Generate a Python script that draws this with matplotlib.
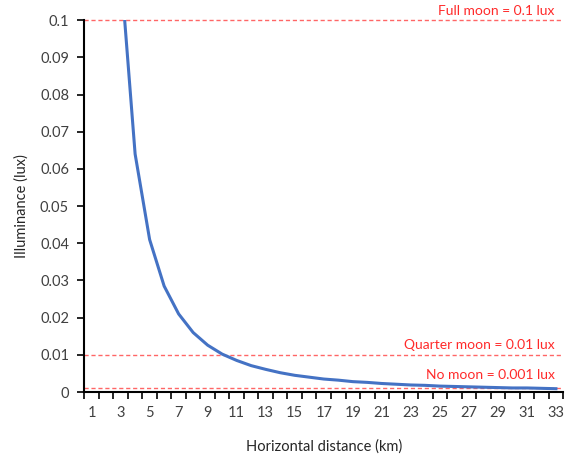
import matplotlib
matplotlib.use("Agg")
import matplotlib.pyplot as plt
import numpy as np

# Horizontal distance (km) and illuminance (lux)
distance_km = list(range(3, 34))
illuminance_lux = [0.114, 0.064, 0.041, 0.0285, 0.021, 0.016, 0.0126, 0.0102,
                   0.0085, 0.0071, 0.0061, 0.0052, 0.0045, 0.0040, 0.0035, 0.0032,
                   0.0028, 0.0026, 0.0023, 0.0021, 0.0019, 0.0018, 0.0016, 0.0015,
                   0.0014, 0.0013, 0.0012, 0.0011, 0.0011, 0.0010, 0.0009]

categories = list(range(1, 34))
x_tick_labels = [str(c) for c in categories if c % 2 == 1]
y_ticks = [0, 0.01, 0.02, 0.03, 0.04, 0.05, 0.06, 0.07, 0.08, 0.09, 0.1]
y_tick_labels = ["0", "0.01", "0.02", "0.03", "0.04", "0.05", "0.06", "0.07", "0.08", "0.09", "0.1"]

reference_levels = [0.1, 0.01, 0.001]
reference_labels = ["Full moon = 0.1 lux", "Quarter moon = 0.01 lux", "No moon = 0.001 lux"]

plt.rcParams['font.family'] = ['Lato', 'DejaVu Sans']

fig = plt.figure(figsize=(5.66, 4.58), dpi=100)
ax = fig.add_axes([0.149, 0.144, 0.846, 0.812])

ax.plot(distance_km, illuminance_lux, color='#4472C4', linewidth=2.2,
        solid_joinstyle='round', zorder=3)

ax.set_xlim(0.5, 33.5)
ax.set_ylim(0, 0.1)

# reference lines with labels
label_offsets = [2, 3, 5]
for level, text, off in zip(reference_levels, reference_labels, label_offsets):
    ax.axhline(level, color='#FF6666', linestyle=(0, (3, 2)), linewidth=1.0,
               zorder=2, clip_on=False)
    ax.annotate(text, xy=(32.9, level), xytext=(0, off), textcoords='offset points',
                ha='right', va='bottom', color='#FF2A2A', fontsize=10)

# category axis: ticks between categories, labels on odd categories
ax.set_xticks(np.arange(0.5, 34.0, 1.0))
ax.set_xticklabels([])
ax.set_xticks([c for c in categories if c % 2 == 1], minor=True)
ax.set_xticklabels(x_tick_labels, minor=True)
ax.tick_params(axis='x', which='major', direction='out', length=5, width=1.2,
               color='black')
ax.tick_params(axis='x', which='minor', length=0, pad=10, labelsize=10.5,
               labelcolor='#404040')

ax.set_yticks(y_ticks)
ax.set_yticklabels(y_tick_labels)
ax.tick_params(axis='y', direction='out', length=5, width=1.2, labelsize=10.5,
               labelcolor='#404040', pad=6)

for side in ['top', 'right']:
    ax.spines[side].set_visible(False)
for side in ['left', 'bottom']:
    ax.spines[side].set_linewidth(1.5)
    ax.spines[side].set_color('black')

ax.set_xlabel("Horizontal distance (km)", fontsize=10.5, color='#262626', labelpad=14)
ax.set_ylabel("Illuminance (lux)", fontsize=10.5, color='#262626', labelpad=8)

fig.savefig("out.png", dpi=100)
